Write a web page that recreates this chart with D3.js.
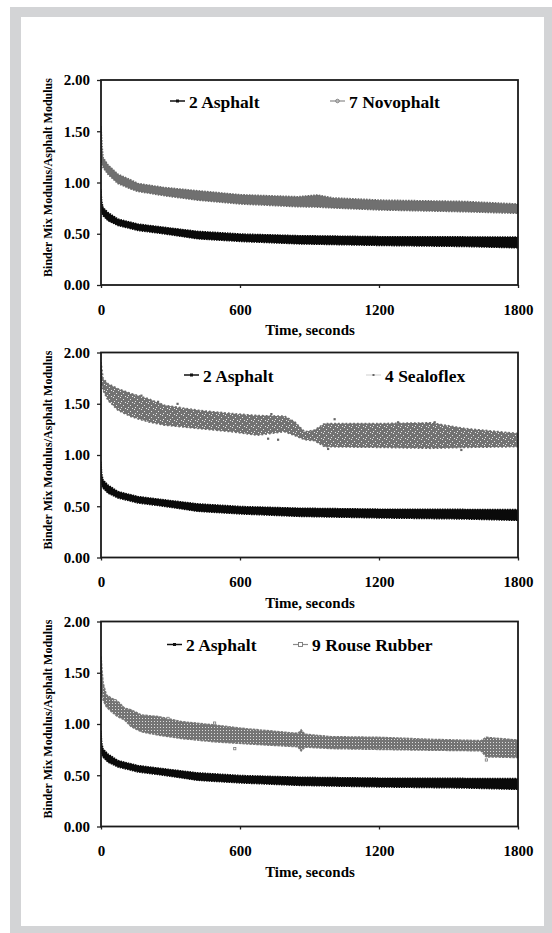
<!DOCTYPE html>
<html>
<head>
<meta charset="utf-8">
<script src="https://cdn.jsdelivr.net/npm/d3@7"></script>
<style>
body { margin: 0; background: #fff; }
</style>
</head>
<body>
<svg id="chart" width="552" height="933"></svg>
<script>
// ---- data ----
var xTicks = [0, 600, 1200, 1800];
var yTicks = [0, 0.5, 1, 1.5, 2];

// 2 Asphalt: band of dense points, upper / lower edge
var asphaltTime = [0, 3, 9, 30, 73, 160, 275, 418, 606, 850, 1210, 1570, 1800];
var asphaltHigh = [0.935, 0.82, 0.757, 0.708, 0.644, 0.595, 0.563, 0.524, 0.498, 0.482, 0.472, 0.470, 0.468];
var asphaltLow  = [0.726, 0.70, 0.676, 0.628, 0.580, 0.531, 0.498, 0.450, 0.424, 0.401, 0.385, 0.375, 0.362];

// 7 Novophalt
var novoTime = [0, 4, 9, 30, 73, 131, 160, 275, 418, 606, 850, 936, 1000, 1210, 1570, 1800];
var novoHigh = [1.55, 1.37, 1.243, 1.172, 1.081, 1.023, 0.990, 0.951, 0.919, 0.880, 0.861, 0.878, 0.850, 0.828, 0.815, 0.790];
var novoLow  = [1.21, 1.18, 1.146, 1.081, 0.990, 0.935, 0.913, 0.871, 0.828, 0.790, 0.764, 0.760, 0.752, 0.732, 0.715, 0.699];

// 4 Sealoflex
var sealTime = [0, 9, 30, 73, 131, 203, 275, 418, 562, 677, 792, 836, 879, 922, 965, 1210, 1425, 1570, 1800];
var sealHigh = [1.906, 1.744, 1.696, 1.647, 1.599, 1.550, 1.485, 1.437, 1.405, 1.385, 1.379, 1.324, 1.227, 1.243, 1.307, 1.307, 1.314, 1.259, 1.210];
var sealLow  = [1.728, 1.631, 1.534, 1.437, 1.372, 1.324, 1.291, 1.259, 1.227, 1.194, 1.227, 1.190, 1.150, 1.139, 1.081, 1.074, 1.065, 1.074, 1.081];
var sealOutTime  = [174, 246, 330, 721, 735, 764, 980, 1008, 1282, 1440, 1555];
var sealOutValue = [1.58, 1.52, 1.50, 1.16, 1.40, 1.15, 1.06, 1.35, 1.32, 1.32, 1.05];

// 9 Rouse Rubber
var rouseTime = [0, 4, 9, 23, 45, 73, 102, 131, 174, 246, 347, 490, 606, 850, 864, 880, 994, 1210, 1425, 1641, 1663, 1800];
var rouseHigh = [1.660, 1.529, 1.399, 1.284, 1.252, 1.219, 1.154, 1.137, 1.088, 1.072, 1.023, 0.990, 0.958, 0.908, 0.941, 0.900, 0.876, 0.869, 0.850, 0.837, 0.869, 0.843];
var rouseLow  = [1.366, 1.300, 1.235, 1.170, 1.121, 1.072, 1.039, 0.974, 0.925, 0.892, 0.859, 0.827, 0.810, 0.778, 0.739, 0.775, 0.761, 0.752, 0.745, 0.739, 0.680, 0.673];
var rouseOutTime  = [60, 289, 490, 577, 1663];
var rouseOutValue = [1.23, 1.056, 1.01, 0.76, 0.65];

var legendNames = [["2 Asphalt", "7 Novophalt"], ["2 Asphalt", "4 Sealoflex"], ["2 Asphalt", "9 Rouse Rubber"]];

// ---- layout ----
var FONT = "Liberation Serif, Times New Roman, Times, DejaVu Serif, serif";
var svg = d3.select("#chart");
svg.append("rect").attr("x", 10).attr("y", 7).attr("width", 542).attr("height", 926).attr("fill", "#d3d4d6");
svg.append("rect").attr("x", 21).attr("y", 17).attr("width", 523).attr("height", 909).attr("fill", "#fff");

var defs = svg.append("defs");
// scattered grey dots with small white gaps
var speck = defs.append("pattern").attr("id", "speck").attr("patternUnits", "userSpaceOnUse")
    .attr("width", 7).attr("height", 6);
speck.append("rect").attr("width", 7).attr("height", 6).attr("fill", "#727272");
[[1, 1], [4, 3], [2, 5], [6, 0]].forEach(function(c) {
    speck.append("rect").attr("x", c[0]).attr("y", c[1]).attr("width", 1).attr("height", 1).attr("fill", "#e6e6e6");
});
// open squares
var boxes = defs.append("pattern").attr("id", "boxes").attr("patternUnits", "userSpaceOnUse")
    .attr("width", 3).attr("height", 3);
boxes.append("rect").attr("width", 3).attr("height", 3).attr("fill", "#747474");
boxes.append("rect").attr("x", 1).attr("y", 1).attr("width", 1).attr("height", 1).attr("fill", "#ddd");

var left = 101, right = 518, plotH = 205;
var tops = [80, 352.5, 621.5];

var x = d3.scaleLinear().domain([0, 1800]).range([left, right]);

var panels = [
    {band: [novoTime, novoHigh, novoLow], fill: "#707070", edge: "#6a6a6a", dash: "1.6,1.2", mark: "circle"},
    {band: [sealTime, sealHigh, sealLow], fill: "url(#speck)", edge: "#6c6c6c", dash: "1.8,2", mark: "dot",
        out: [sealOutTime, sealOutValue]},
    {band: [rouseTime, rouseHigh, rouseLow], fill: "url(#boxes)", edge: "#777", dash: "2.5,1", mark: "square",
        out: [rouseOutTime, rouseOutValue]}
];

function bandRows(t, hi, lo) {
    return t.map(function(d, i) { return {t: d, hi: hi[i], lo: lo[i]}; });
}

panels.forEach(function(p, k) {
    var top = tops[k];
    var y = d3.scaleLinear().domain([0, 2]).range([top + plotH, top]);
    var g = svg.append("g").attr("font-family", FONT).attr("font-weight", "bold");

    g.append("clipPath").attr("id", "clip" + k)
        .append("rect").attr("x", left).attr("y", top).attr("width", right - left).attr("height", plotH);

    var area = d3.area().x(d => x(d.t)).y0(d => y(d.lo)).y1(d => y(d.hi));
    var plot = g.append("g").attr("clip-path", "url(#clip" + k + ")");

    // second material
    plot.append("path").datum(bandRows(p.band[0], p.band[1], p.band[2]))
        .attr("d", area).attr("fill", p.fill)
        .attr("stroke", p.edge).attr("stroke-width", 1.6).attr("stroke-dasharray", p.dash);
    if (p.out) {
        plot.selectAll(".out").data(p.out[0]).enter().append("rect")
            .attr("x", d => x(d) - 1).attr("y", (d, i) => y(p.out[1][i]) - 1)
            .attr("width", 2.2).attr("height", 2.2)
            .attr("fill", k === 2 ? "#fff" : "#666").attr("stroke", k === 2 ? "#777" : "none").attr("stroke-width", 0.8);
    }
    // asphalt reference
    plot.append("path").datum(bandRows(asphaltTime, asphaltHigh, asphaltLow))
        .attr("d", area).attr("fill", "#0a0a0a")
        .attr("stroke", "#0a0a0a").attr("stroke-width", 1.4).attr("stroke-dasharray", "1.5,1");

    // axes
    var xa = g.append("g").attr("transform", "translate(0," + (top + plotH) + ")")
        .call(d3.axisBottom(x).tickValues(xTicks).tickFormat(d3.format("d")).tickSize(3).tickPadding(16).tickSizeOuter(0));
    var ya = g.append("g").attr("transform", "translate(" + left + ",0)")
        .call(d3.axisLeft(y).tickValues(yTicks).tickFormat(d3.format(".2f")).tickSize(4).tickPadding(7).tickSizeOuter(0));
    [xa, ya].forEach(function(a) {
        a.attr("font-family", FONT).attr("font-size", 15);
        a.select(".domain").remove();
        a.selectAll("line").attr("stroke", "#222").attr("stroke-width", 1.3);
        a.selectAll("text").attr("fill", "#000");
    });
    g.append("rect").attr("x", left).attr("y", top).attr("width", right - left).attr("height", plotH)
        .attr("fill", "none").attr("stroke", "#1a1a1a").attr("stroke-width", 1.8);

    // axis titles
    g.append("text").attr("x", 310).attr("y", top + plotH + 50).attr("text-anchor", "middle")
        .attr("font-size", 15).attr("fill", "#000").text("Time, seconds");
    g.append("text").attr("transform", "translate(52," + (top + plotH / 2 - 5) + ") rotate(-90)")
        .attr("text-anchor", "middle").attr("font-size", 12).attr("fill", "#000").text("Binder Mix Modulus/Asphalt Modulus");

    // legend
    var lx = [[170, 330], [184, 366], [167, 293]][k];
    var ly = top + [21, 22.5, 23][k];
    var leg = g.append("g");
    // asphalt entry
    leg.append("line").attr("x1", lx[0]).attr("x2", lx[0] + 15).attr("y1", ly).attr("y2", ly)
        .attr("stroke", "#111").attr("stroke-width", 1.5);
    leg.append("rect").attr("x", lx[0] + 6).attr("y", ly - 1.5).attr("width", 3).attr("height", 3).attr("fill", "#111");
    leg.append("text").attr("x", lx[0] + 19).attr("y", ly + 6.5).attr("font-size", 17.5).attr("fill", "#000").text(legendNames[k][0]);
    // second entry
    var col = k === 1 ? "#d8d8d8" : "#8a8a8a";
    leg.append("line").attr("x1", lx[1]).attr("x2", lx[1] + 15).attr("y1", ly).attr("y2", ly)
        .attr("stroke", col).attr("stroke-width", 1.2);
    if (p.mark === "circle") {
        leg.append("circle").attr("cx", lx[1] + 7.5).attr("cy", ly).attr("r", 1.8)
            .attr("fill", "#bbb").attr("stroke", "#777").attr("stroke-width", 0.8);
    } else if (p.mark === "dot") {
        leg.append("rect").attr("x", lx[1] + 6.5).attr("y", ly - 1).attr("width", 2).attr("height", 2).attr("fill", "#666");
    } else {
        leg.append("rect").attr("x", lx[1] + 5.5).attr("y", ly - 2).attr("width", 4).attr("height", 4)
            .attr("fill", "#fff").attr("stroke", "#777").attr("stroke-width", 0.9);
    }
    leg.append("text").attr("x", lx[1] + 19).attr("y", ly + 6.5).attr("font-size", 17.5).attr("fill", "#000").text(legendNames[k][1]);
});
</script>
</body>
</html>
